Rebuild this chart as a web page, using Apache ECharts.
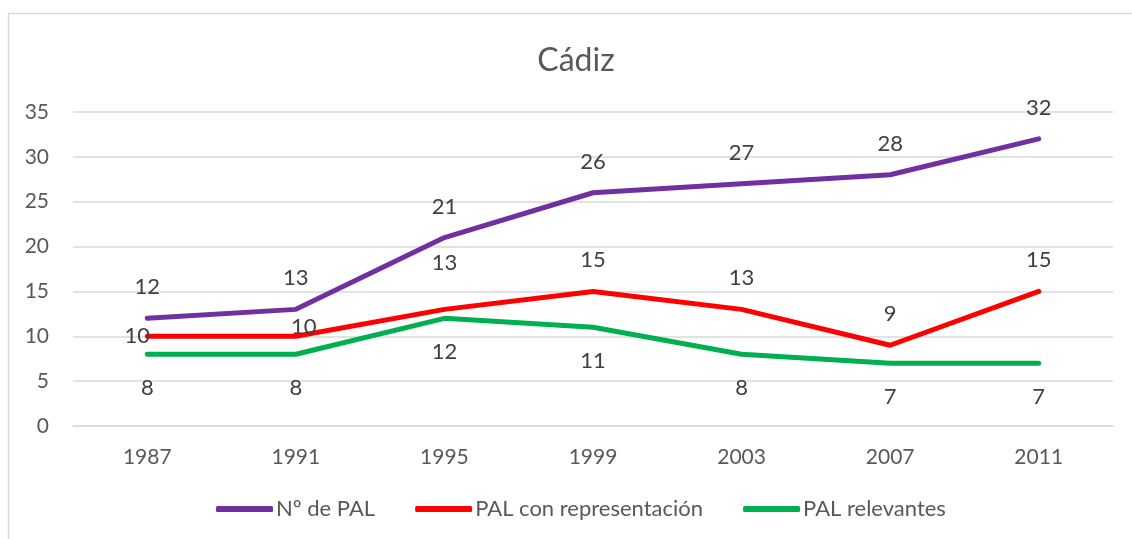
<!DOCTYPE html>
<html>
<head>
<meta charset="utf-8">
<script src="https://cdn.jsdelivr.net/npm/echarts@6/dist/echarts.min.js"></script>
<style>
  html, body { margin: 0; padding: 0; background: #fff; }
  #chart { width: 1132px; height: 539px; }
</style>
</head>
<body>
<div id="chart"></div>
<script>
var years = ['1987', '1991', '1995', '1999', '2003', '2007', '2011'];
var numPal = [12, 13, 21, 26, 27, 28, 32];
var palRepresentacion = [10, 10, 13, 15, 13, 9, 15];
var palRelevantes = [8, 8, 12, 11, 8, 7, 7];
var seriesNames = ['Nº de PAL', 'PAL con representación', 'PAL relevantes'];

var font = 'Lato';

// a few labels Excel moved around to avoid overlap
var redLabelTweaks = {
    0: { position: 'inside', offset: [-10, 0] },
    1: { position: 'inside', offset: [8, -9] },
    2: { position: 'top', distance: 35 }
};

function buildData(values, tweaks) {
    return values.map(function (v, i) {
        if (tweaks && tweaks[i]) {
            return { value: v, label: tweaks[i] };
        }
        return v;
    });
}

function lineSeries(name, values, color, pos, tweaks) {
    return {
        name: name,
        type: 'line',
        data: buildData(values, tweaks),
        symbol: 'circle',
        symbolSize: 0.1,
        lineStyle: { width: 5, color: color, cap: 'round', join: 'round' },
        itemStyle: { color: color },
        label: {
            show: true,
            position: pos,
            distance: pos === 'top' ? 20 : 23,
            color: '#404040',
            fontSize: 22,
            fontFamily: font
        },
        emphasis: { disabled: true },
        animation: false
    };
}

var myChart = echarts.init(document.getElementById('chart'));

var option = {
    backgroundColor: '#fff',
    title: {
        text: 'Cádiz',
        left: 571,
        textAlign: 'center',
        top: 40,
        textStyle: { color: '#595959', fontSize: 32, fontWeight: 'normal', fontFamily: font }
    },
    graphic: [{
        type: 'rect',
        shape: { x: 8.5, y: 13.5, width: 1140, height: 540 },
        style: { fill: 'none', stroke: '#d9d9d9', lineWidth: 1.5 },
        silent: true
    }],
    grid: { left: 73, right: 19, top: 112, bottom: 113, containLabel: false },
    legend: {
        bottom: 14,
        left: 211,
        itemWidth: 57,
        itemHeight: 6,
        itemGap: 40,
        icon: 'roundRect',
        textStyle: { color: '#595959', fontSize: 22, fontFamily: font, padding: [0, 0, 0, -2] },
        data: seriesNames
    },
    xAxis: {
        type: 'category',
        data: years,
        boundaryGap: true,
        axisLine: { show: true, lineStyle: { color: '#d9d9d9', width: 1.5 } },
        axisTick: { show: false },
        axisLabel: { color: '#595959', fontSize: 21, fontFamily: font, margin: 21 }
    },
    yAxis: {
        type: 'value',
        min: 0,
        max: 35,
        interval: 5,
        axisLine: { show: false },
        axisTick: { show: false },
        splitLine: { lineStyle: { color: '#d9d9d9', width: 1.5 } },
        axisLabel: { color: '#595959', fontSize: 21, fontFamily: font, margin: 24 }
    },
    series: [
        lineSeries(seriesNames[0], numPal, '#7030A0', 'top'),
        lineSeries(seriesNames[1], palRepresentacion, '#FF0000', 'top', redLabelTweaks),
        lineSeries(seriesNames[2], palRelevantes, '#00B050', 'bottom')
    ]
};

myChart.setOption(option);
</script>
</body>
</html>
